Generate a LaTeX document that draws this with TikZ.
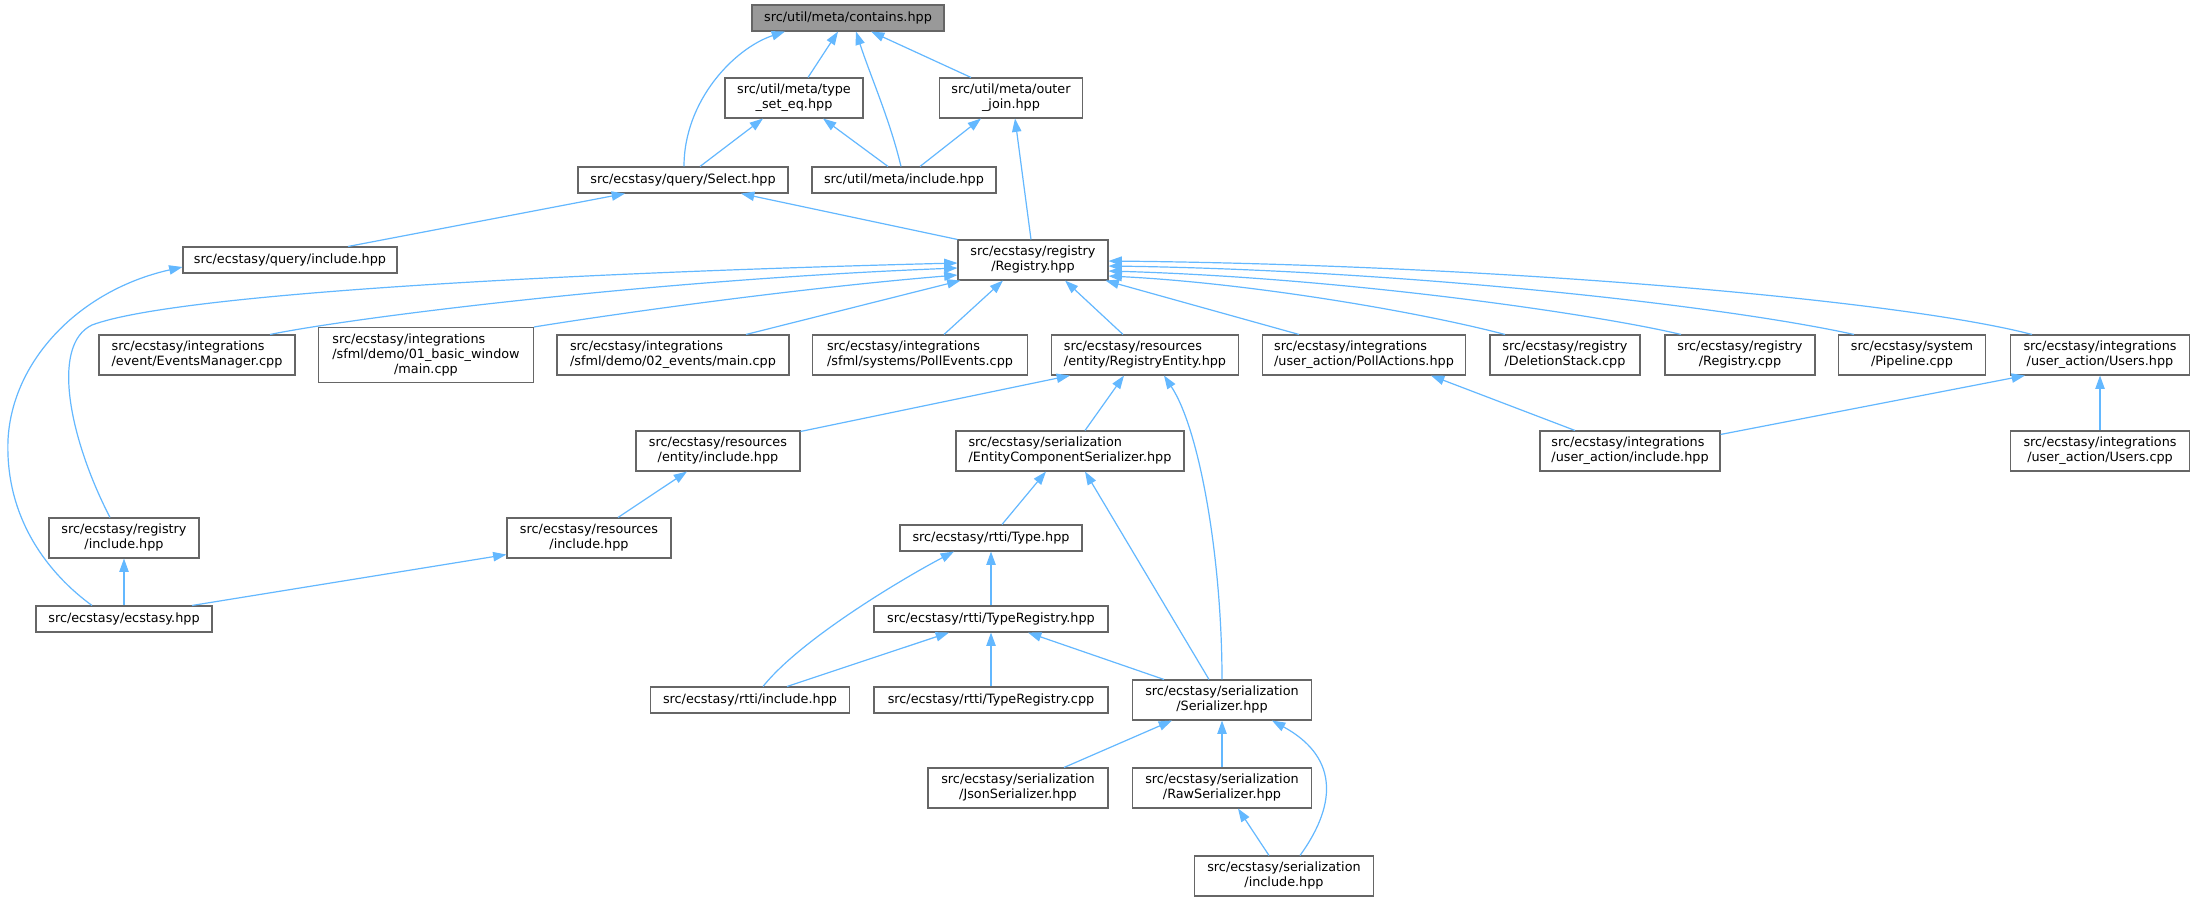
\documentclass[tikz,border=0pt]{standalone}
\usepackage{fontspec}
\setmainfont{DejaVu Sans}
\usetikzlibrary{arrows.meta,calc}
\definecolor{edgeblue}{HTML}{63B8FF}
\definecolor{nodeborder}{HTML}{666666}
\definecolor{rootfill}{HTML}{999999}
\newcommand{\twol}[2]{\begin{tabular}{@{}l@{}}#1\\\multicolumn{1}{@{}c@{}}{#2}\end{tabular}}
\newcommand{\threel}[3]{\begin{tabular}{@{}l@{}}#1\\#2\\\multicolumn{1}{@{}c@{}}{#3}\end{tabular}}
\newcommand{\gnode}[7][]{\node[gbox,#1,minimum width=#5*0.75pt,minimum height=#6*0.75pt] (#2) at (#3,#4) {#7};}
\tikzset{
  gbox/.style={rectangle,draw=nodeborder,line width=0.8pt,fill=white,inner sep=0pt,
    font=\fontsize{9.6pt}{11.25pt}\selectfont},
  gedge/.style={draw=edgeblue,line width=0.9pt,-{Triangle[length=10pt,width=7pt]}}
}
\begin{document}
\begin{tikzpicture}[x=0.75pt,y=-0.75pt]
\useasboundingbox (0,0) rectangle (2191,901);
\fill[white] (0,0) rectangle (2191,901);
% nodes
\gnode[fill=rootfill]{contains}{848}{18}{192}{26}{src/util/meta/contains.hpp}
\gnode{tseq}{794}{98}{138}{40}{\twol{src/util/meta/type}{\_set\_eq.hpp}}
\gnode{outer}{1011}{98}{143}{40}{\twol{src/util/meta/outer}{\_join.hpp}}
\gnode{select}{683}{180}{210}{26}{src/ecstasy/query/Select.hpp}
\gnode{metainc}{904}{180}{184}{26}{src/util/meta/include.hpp}
\gnode{queryinc}{290}{260}{214}{26}{src/ecstasy/query/include.hpp}
\gnode{registry}{1033}{260}{150}{40}{\twol{src/ecstasy/registry}{/Registry.hpp}}
\gnode{evm}{197}{355}{196}{40}{\twol{src/ecstasy/integrations}{/event/EventsManager.cpp}}
\gnode{basic}{426}{355}{215}{55}{\threel{src/ecstasy/integrations}{/sfml/demo/01\_basic\_window}{/main.cpp}}
\gnode{evtwo}{673}{355}{232}{40}{\twol{src/ecstasy/integrations}{/sfml/demo/02\_events/main.cpp}}
\gnode{pollev}{920}{355}{215}{40}{\twol{src/ecstasy/integrations}{/sfml/systems/PollEvents.cpp}}
\gnode{regent}{1145}{355}{187}{40}{\twol{src/ecstasy/resources}{/entity/RegistryEntity.hpp}}
\gnode{pollact}{1364}{355}{203}{40}{\twol{src/ecstasy/integrations}{/user\_action/PollActions.hpp}}
\gnode{delst}{1565}{355}{150}{40}{\twol{src/ecstasy/registry}{/DeletionStack.cpp}}
\gnode{regcpp}{1740}{355}{150}{40}{\twol{src/ecstasy/registry}{/Registry.cpp}}
\gnode{pipe}{1912}{355}{147}{40}{\twol{src/ecstasy/system}{/Pipeline.cpp}}
\gnode{usershpp}{2100}{355}{179}{40}{\twol{src/ecstasy/integrations}{/user\_action/Users.hpp}}
\gnode{entinc}{718}{451}{164}{40}{\twol{src/ecstasy/resources}{/entity/include.hpp}}
\gnode{ecs}{1070}{451}{228}{40}{\twol{src/ecstasy/serialization}{/EntityComponentSerializer.hpp}}
\gnode{uainc}{1630}{451}{180}{40}{\twol{src/ecstasy/integrations}{/user\_action/include.hpp}}
\gnode{userscpp}{2100}{451}{179}{40}{\twol{src/ecstasy/integrations}{/user\_action/Users.cpp}}
\gnode{reginc}{124}{538}{150}{40}{\twol{src/ecstasy/registry}{/include.hpp}}
\gnode{resinc}{589}{538}{164}{40}{\twol{src/ecstasy/resources}{/include.hpp}}
\gnode{type}{991}{538}{182}{26}{src/ecstasy/rtti/Type.hpp}
\gnode{ecstasy}{124}{619}{176}{26}{src/ecstasy/ecstasy.hpp}
\gnode{treghpp}{991}{619}{234}{26}{src/ecstasy/rtti/TypeRegistry.hpp}
\gnode{rttiinc}{750}{700}{199}{26}{src/ecstasy/rtti/include.hpp}
\gnode{tregcpp}{991}{700}{234}{26}{src/ecstasy/rtti/TypeRegistry.cpp}
\gnode{ser}{1222}{700}{179}{40}{\twol{src/ecstasy/serialization}{/Serializer.hpp}}
\gnode{json}{1018}{788}{180}{40}{\twol{src/ecstasy/serialization}{/JsonSerializer.hpp}}
\gnode{raw}{1222}{788}{179}{40}{\twol{src/ecstasy/serialization}{/RawSerializer.hpp}}
\gnode{serinc}{1284}{876}{179}{40}{\twol{src/ecstasy/serialization}{/include.hpp}}
% edges
\draw[gedge] ($(select.north)+(1,0)$) .. controls (684,100) and (735,48) .. ($(contains.south)+(-63,0)$);
\draw[gedge] ($(tseq.north)+(14,0)$) -- ($(contains.south)+(-10,0)$);
\draw[gedge] ($(metainc.north)+(-3,0)$) .. controls (890,120) and (870,75) .. ($(contains.south)+(8,0)$);
\draw[gedge] ($(outer.north)+(-40,0)$) -- ($(contains.south)+(23,0)$);
\draw[gedge] ($(select.north)+(17,0)$) -- ($(tseq.south)+(-31,0)$);
\draw[gedge] ($(metainc.north)+(-16,0)$) -- ($(tseq.south)+(29,0)$);
\draw[gedge] ($(metainc.north)+(16,0)$) -- ($(outer.south)+(-30,0)$);
\draw[gedge] ($(registry.north)+(-2,0)$) -- ($(outer.south)+(4,0)$);
\draw[gedge] ($(queryinc.north)+(58,0)$) -- ($(select.south)+(-58,0)$);
\draw[gedge] (registry.north west) -- ($(select.south)+(58,0)$);
\draw[gedge] ($(ecstasy.north)+(-32,0)$) .. controls (50,575) and (5,520) .. (8,440) .. controls (12,360) and (80,290) .. ($(queryinc.west)+(0,7)$);
\draw[gedge] ($(reginc.north)+(-14,0)$) .. controls (70,440) and (50,345) .. (92,325) .. controls (180,292) and (600,272) .. ($(registry.west)+(0,3)$);
\draw[gedge] ($(evm.north)+(73,0)$) .. controls (350,318) and (650,280) .. ($(registry.west)+(0,8)$);
\draw[gedge] (basic.north east) .. controls (620,313) and (800,288) .. ($(registry.west)+(0,15)$);
\draw[gedge] ($(evtwo.north)+(73,0)$) -- ($(registry.south west)+(3,0)$);
\draw[gedge] ($(pollev.north)+(24,0)$) -- ($(registry.south)+(-30,0)$);
\draw[gedge] ($(regent.north)+(-22,0)$) -- ($(registry.south)+(32,0)$);
\draw[gedge] ($(pollact.north)+(-65,0)$) -- ($(registry.south east)+(-3,0)$);
\draw[gedge] ($(delst.north)+(-60,0)$) .. controls (1420,312) and (1250,283) .. ($(registry.east)+(0,16)$);
\draw[gedge] ($(regcpp.north)+(-59,0)$) .. controls (1600,315) and (1350,278) .. ($(registry.east)+(0,11)$);
\draw[gedge] ($(pipe.north)+(-58,0)$) .. controls (1720,305) and (1400,270) .. ($(registry.east)+(0,6)$);
\draw[gedge] ($(usershpp.north)+(-68,0)$) .. controls (1900,300) and (1500,265) .. ($(registry.east)+(0,1)$);
\draw[gedge] ($(entinc.north east)+(0,1)$) -- ($(regent.south)+(-75,0)$);
\draw[gedge] ($(ecs.north)+(15,0)$) -- ($(regent.south)+(-21,0)$);
\draw[gedge] (ser.north) .. controls (1222,560) and (1200,430) .. ($(regent.south)+(19,0)$);
\draw[gedge] ($(uainc.north)+(-55,0)$) -- ($(pollact.south)+(67,0)$);
\draw[gedge] ($(uainc.north east)+(0,4)$) -- ($(usershpp.south west)+(15,0)$);
\draw[gedge] (userscpp) -- (usershpp);
\draw[gedge] ($(resinc.north)+(29,0)$) -- ($(entinc.south)+(-31,0)$);
\draw[gedge] ($(ecstasy.north)+(68,0)$) -- ($(resinc.south west)+(0,-4)$);
\draw[gedge] (ecstasy) -- (reginc);
\draw[gedge] ($(type.north)+(11,0)$) -- ($(ecs.south)+(-24,0)$);
\draw[gedge] ($(ser.north)+(-13,0)$) -- ($(ecs.south)+(15,0)$);
\draw[gedge] ($(rttiinc.north)+(13,0)$) .. controls (800,640) and (900,580) .. ($(type.south)+(-37,0)$);
\draw[gedge] (treghpp) -- (type);
\draw[gedge] ($(rttiinc.north)+(37,0)$) -- ($(treghpp.south)+(-42,0)$);
\draw[gedge] (tregcpp) -- (treghpp);
\draw[gedge] ($(ser.north)+(-58,0)$) -- ($(treghpp.south)+(37,0)$);
\draw[gedge] ($(json.north)+(46,0)$) -- ($(ser.south)+(-50,0)$);
\draw[gedge] (raw) -- (ser);
\draw[gedge] ($(serinc.north)+(16,0)$) .. controls (1340,800) and (1335,755) .. ($(ser.south)+(50,0)$);
\draw[gedge] ($(serinc.north)+(-15,0)$) -- ($(raw.south)+(16,0)$);
\end{tikzpicture}
\end{document}
